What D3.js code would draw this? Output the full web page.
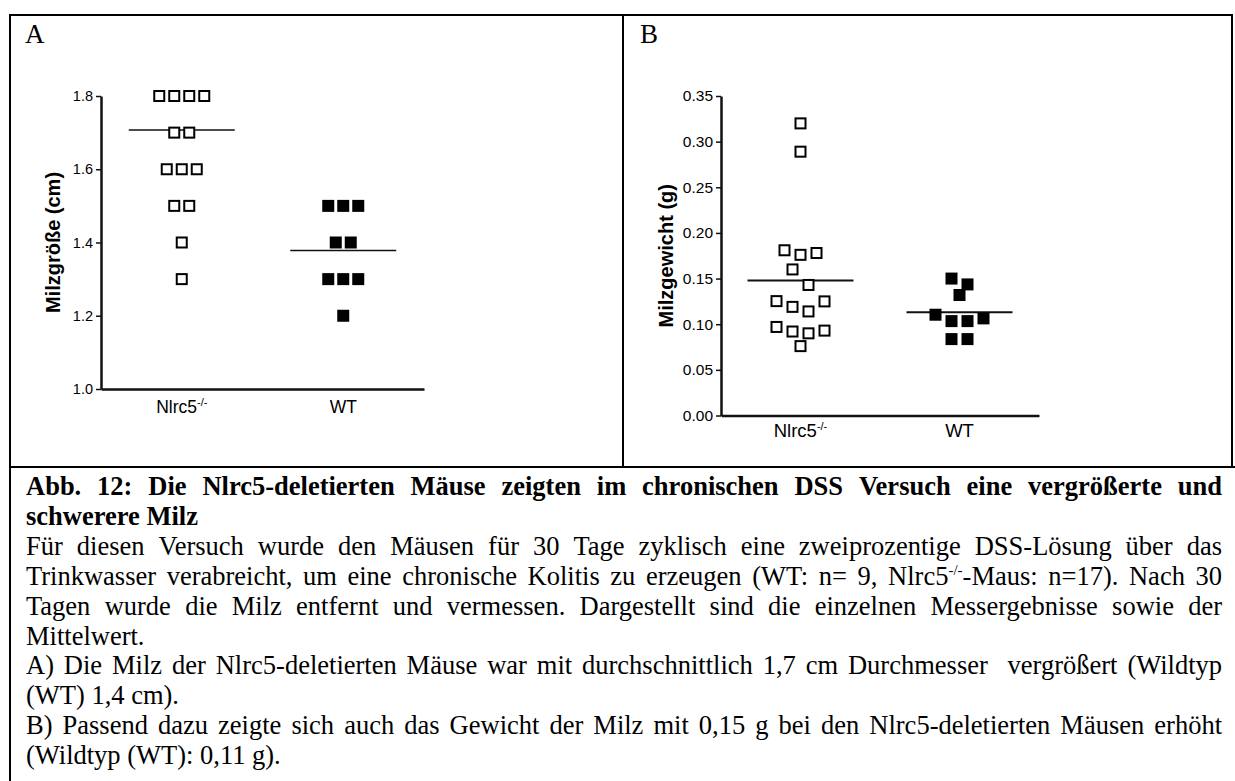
<!DOCTYPE html>
<meta charset="utf-8">
<title>Abb. 12 Milz</title>
<style>
body { margin: 0; background: #fff; }
.axis path, .axis line { stroke: #111; }
.axis text { fill: #000; font-family: "Liberation Sans", Arial, sans-serif; }
.caption text { font-family: "Liberation Serif", "Times New Roman", serif; font-size: 26.5px; fill: #000; }
</style>
<body>
<script src="https://d3js.org/d3.v7.min.js"></script>
<script>

// groups on the x axis
var groupNames = ["Nlrc5", "WT"];
var groupSups = ["-/-", ""];

// A: Milzgröße (cm)
var sizeNlrc5 = [1.8, 1.8, 1.8, 1.8, 1.7, 1.7, 1.6, 1.6, 1.6, 1.5, 1.5, 1.4, 1.3];
var sizeWT = [1.5, 1.5, 1.5, 1.4, 1.4, 1.3, 1.3, 1.3, 1.2];
var sizeMeans = [1.707, 1.378];
var sizeTicks = [1.0, 1.2, 1.4, 1.6, 1.8];

// B: Milzgewicht (g)
var weightNlrc5 = [0.320, 0.289, 0.181, 0.178, 0.176, 0.160, 0.143, 0.1253, 0.125,
                   0.119, 0.114, 0.097, 0.093, 0.092, 0.090, 0.076];
var weightWT = [0.150, 0.1436, 0.132, 0.1104, 0.1064, 0.1034, 0.1034, 0.0837, 0.0837];
var weightMeans = [0.148, 0.113];
var weightTicks = [0, 0.05, 0.10, 0.15, 0.20, 0.25, 0.30, 0.35];

// caption, ^...^ marks superscript
var captionLines = [
  {text: "Abb. 12: Die Nlrc5-deletierten Mäuse zeigten im chronischen DSS Versuch eine vergrößerte und", bold: true, justify: true},
  {text: "schwerere Milz", bold: true, justify: false},
  {text: "Für diesen Versuch wurde den Mäusen für 30 Tage zyklisch eine zweiprozentige DSS-Lösung über das", bold: false, justify: true},
  {text: "Trinkwasser verabreicht, um eine chronische Kolitis zu erzeugen (WT: n= 9, Nlrc5^-/-^-Maus: n=17). Nach 30", bold: false, justify: true},
  {text: "Tagen wurde die Milz entfernt und vermessen. Dargestellt sind die einzelnen Messergebnisse sowie der", bold: false, justify: true},
  {text: "Mittelwert.", bold: false, justify: false},
  {text: "A) Die Milz der Nlrc5-deletierten Mäuse war mit durchschnittlich 1,7 cm Durchmesser  vergrößert (Wildtyp", bold: false, justify: true},
  {text: "(WT) 1,4 cm).", bold: false, justify: false},
  {text: "B) Passend dazu zeigte sich auch das Gewicht der Milz mit 0,15 g bei den Nlrc5-deletierten Mäusen erhöht", bold: false, justify: true},
  {text: "(Wildtyp (WT): 0,11 g).", bold: false, justify: false}
];

var svg = d3.select("body").append("svg")
    .attr("width", 1235)
    .attr("height", 781);

// table frame
var frame = svg.append("g").attr("stroke", "#000").attr("stroke-width", 2);
frame.append("line").attr("x1", 9).attr("y1", 15).attr("x2", 1233).attr("y2", 15);
frame.append("line").attr("x1", 10).attr("y1", 14).attr("x2", 10).attr("y2", 781);
frame.append("line").attr("x1", 623).attr("y1", 15).attr("x2", 623).attr("y2", 467);
frame.append("line").attr("x1", 1232).attr("y1", 14).attr("x2", 1232).attr("y2", 467);
frame.append("line").attr("x1", 9).attr("y1", 467).attr("x2", 1235).attr("y2", 467);

// spread equal-ish values into centered rows, highest value of a row goes outermost
function swarm(values, y, step) {
  var pts = values.map(function(v) { return {value: v, py: y(v), dx: 0}; })
      .sort(function(a, b) { return b.value - a.value; });
  var rows = [], row = null;
  pts.forEach(function(p) {
    if (!row || p.py - row[0].py > 16) { row = [p]; rows.push(row); }
    else row.push(p);
  });
  rows.forEach(function(r) {
    var n = r.length, lo = 0, hi = n - 1;
    r.forEach(function(p, i) {
      var slot = (i % 2 === 0) ? lo++ : hi--;
      p.dx = (slot - (n - 1) / 2) * step;
    });
  });
  return pts;
}

function drawPanel(o) {
  var g = svg.append("g");

  g.append("text")
      .attr("x", o.letterX)
      .attr("y", 43)
      .style("font-family", "'Liberation Serif', 'Times New Roman', serif")
      .style("font-size", "27px")
      .text(o.letter);

  var y = d3.scaleLinear().domain(o.domain).range([o.bottom, o.top]);
  var x = d3.scaleBand().domain(groupNames).range([o.left, o.right]);

  // y axis
  var ya = g.append("g")
      .attr("class", "axis")
      .attr("transform", "translate(" + o.left + ",0)")
      .call(d3.axisLeft(y).tickValues(o.ticks).tickFormat(d3.format(o.fmt))
        .tickSize(5).tickSizeOuter(0).tickPadding(3));
  ya.select(".domain").attr("stroke-width", 2.5);
  ya.selectAll(".tick line").attr("stroke-width", 1.5);
  ya.selectAll(".tick text").style("font-size", o.tickFont + "px");

  // x axis
  var xa = g.append("g")
      .attr("class", "axis")
      .attr("transform", "translate(0," + o.bottom + ")")
      .call(d3.axisBottom(x).tickSize(0).tickSizeOuter(0));
  xa.select(".domain").attr("stroke-width", 2.5);
  xa.selectAll(".tick text")
      .attr("y", o.catDy)
      .attr("dy", null)
      .style("font-size", o.catFont + "px")
      .each(function(d, i) {
        var t = d3.select(this).text(null);
        t.append("tspan").text(d);
        if (groupSups[i]) {
          t.append("tspan").attr("dy", -7).style("font-size", "11px").text(groupSups[i]);
        }
      });

  // axis title
  g.append("text")
      .attr("transform", "translate(" + o.labelX + "," + ((o.top + o.bottom) / 2) + ") rotate(-90)")
      .attr("text-anchor", "middle")
      .attr("dy", "0.35em")
      .style("font-family", "'Liberation Sans', Arial, sans-serif")
      .style("font-weight", "bold")
      .style("font-size", "20px")
      .text(o.label);

  // mean lines (under the points)
  g.append("g").selectAll("line")
      .data(o.means)
    .enter().append("line")
      .attr("x1", function(d, i) { return x(groupNames[i]) + x.bandwidth() / 2 - 53; })
      .attr("x2", function(d, i) { return x(groupNames[i]) + x.bandwidth() / 2 + 53; })
      .attr("y1", function(d) { return y(d); })
      .attr("y2", function(d) { return y(d); })
      .attr("stroke", "#111")
      .attr("stroke-width", o.meanW);

  // points
  o.series.forEach(function(vals, i) {
    var cx = x(groupNames[i]) + x.bandwidth() / 2;
    var pts = swarm(vals, y, o.step);
    var filled = i === 1;
    g.append("g").selectAll("rect")
        .data(pts)
      .enter().append("rect")
        .attr("x", function(d) { return cx + d.dx - (filled ? 6 : 5); })
        .attr("y", function(d) { return d.py - (filled ? 6 : 5); })
        .attr("width", filled ? 12 : 10)
        .attr("height", filled ? 12 : 10)
        .attr("fill", filled ? "#000" : "#fff")
        .attr("stroke", filled ? "none" : "#000")
        .attr("stroke-width", 2);
  });
}

drawPanel({
  letter: "A", letterX: 25,
  left: 101, right: 424, top: 96, bottom: 389,
  domain: [1.0, 1.8], ticks: sizeTicks, fmt: ".1f",
  series: [sizeNlrc5, sizeWT], means: sizeMeans,
  label: "Milzgröße (cm)", labelX: 53,
  step: 15, tickFont: 14.5, catFont: 17.5, catDy: 24, meanW: 1.5
});

drawPanel({
  letter: "B", letterX: 640,
  left: 721, right: 1039, top: 96, bottom: 415.5,
  domain: [0, 0.35], ticks: weightTicks, fmt: ".2f",
  series: [weightNlrc5, weightWT], means: weightMeans,
  label: "Milzgewicht (g)", labelX: 666,
  step: 16, tickFont: 15.5, catFont: 18.5, catDy: 21, meanW: 2
});

// caption, justified line by line
var cap = svg.append("g").attr("class", "caption");
var capLeft = 26, capRight = 1222;

captionLines.forEach(function(line, i) {
  var yb = 495 + i * 29.9;
  var words = line.text.split(" ");
  var nodes = words.map(function(w) {
    var t = cap.append("text")
        .attr("y", yb)
        .style("font-weight", line.bold ? "bold" : null);
    w.split("^").forEach(function(part, k) {
      if (!part) return;
      var ts = t.append("tspan").text(part);
      if (k % 2 === 1) ts.attr("dy", -10).style("font-size", "15px");
      else if (k > 0) ts.attr("dy", 10);
    });
    return t;
  });
  var widths = nodes.map(function(t) { return t.node().getComputedTextLength(); });
  var total = d3.sum(widths);
  var gap = line.justify ? (capRight - capLeft - total) / (words.length - 1) : 6.6;
  var xx = capLeft;
  nodes.forEach(function(t, k) {
    t.attr("x", xx);
    xx += widths[k] + gap;
  });
});

</script>
</body>
